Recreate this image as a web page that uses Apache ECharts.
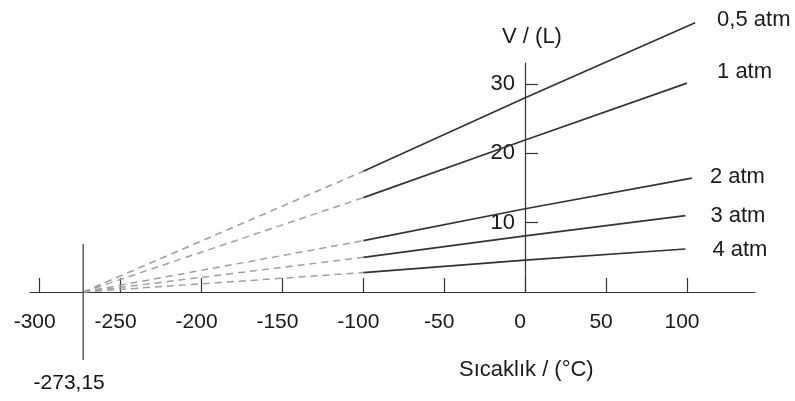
<!DOCTYPE html>
<html>
<head>
<meta charset="utf-8">
<script src="https://cdn.jsdelivr.net/npm/echarts@6/dist/echarts.min.js"></script>
<style>html,body{margin:0;padding:0;background:#fff;}#c{width:795px;height:401px;}</style>
</head>
<body>
<div id="c"></div>
<script>
const pressures = ['0,5 atm', '1 atm', '2 atm', '3 atm', '4 atm'];
const absZero = -273.15;
const absZeroText = '-273,15';
const tStart = -100;
const tZero = 0;
const tEnd = [105, 100, 103, 99, 99];
const vAtStart = [17.4, 13.6, 7.4, 5.0, 2.8];
const vAtZero = [28.0, 21.9, 12.0, 8.1, 4.6];
const vAtEnd = [38.8, 30.1, 16.4, 11.0, 6.2];
const xTicks = [-300, -250, -200, -150, -100, -50, 0, 50, 100];
const yTicks = [10, 20, 30];
const absZeroLineV = [7, -10];

const labelOffsets = [[22, -3], [30, -11], [18, -1], [25, 0], [27, 1]];
const FONT = 'Liberation Sans, Arial, sans-serif';
const TXT = '#1a1a1a';
const FS = 22;

const series = [];
pressures.forEach((p, i) => {
  series.push({
    type: 'line', xAxisIndex: 0, yAxisIndex: 0, symbol: 'none', silent: true, clip: false,
    data: [[absZero, 0], [tStart, vAtStart[i]]],
    lineStyle: { color: '#a0a0a0', width: 1.5, type: [7, 5] }
  });
  series.push({
    type: 'line', xAxisIndex: 0, yAxisIndex: 0, symbol: 'none', silent: true, clip: false, name: p,
    data: [[tStart, vAtStart[i]], [tZero, vAtZero[i]], [tEnd[i], vAtEnd[i]]],
    lineStyle: { color: '#333', width: 1.7 },
    endLabel: {
      show: true, formatter: p, distance: labelOffsets[i][0], offset: [0, labelOffsets[i][1]],
      fontFamily: FONT, fontSize: FS, color: TXT
    }
  });
});
series.push({
  type: 'line', xAxisIndex: 1, yAxisIndex: 1, symbol: 'none', silent: true,
  data: [[absZero, absZeroLineV[0]], [absZero, absZeroLineV[1]]],
  lineStyle: { color: '#333', width: 1.2 }
});
series.push({
  type: 'scatter', xAxisIndex: 1, yAxisIndex: 1, symbolSize: 0, silent: true,
  data: [[absZero, absZeroLineV[1]]],
  itemStyle: { color: '#111', opacity: 1 },
  label: {
    show: true, formatter: absZeroText, position: 'bottom', distance: 13, offset: [-14, 0],
    fontFamily: FONT, fontSize: FS - 1, color: '#111', opacity: 1
  }
});

const chart = echarts.init(document.getElementById('c'), null, { renderer: 'canvas' });
chart.setOption({
  animation: false,
  backgroundColor: '#fff',
  title: {
    text: 'Sıcaklık / (°C)', left: 459, top: 359, padding: 0,
    textStyle: { fontFamily: FONT, fontSize: FS, fontWeight: 'normal', color: TXT }
  },
  grid: [
    { left: 30, right: 40, top: 63, bottom: 109 },
    { left: 30, right: 40, top: 244, bottom: 41 }
  ],
  xAxis: [
    {
      type: 'value', gridIndex: 0, min: -306, max: 142,
      splitLine: { show: false },
      axisLine: { onZero: false, lineStyle: { color: '#333', width: 1.2 } },
      axisTick: { show: true, inside: true, length: 14, customValues: xTicks, lineStyle: { color: '#333', width: 1.2 } },
      axisLabel: { customValues: xTicks, margin: 20, fontFamily: FONT, fontSize: FS - 1, color: TXT, padding: [0, 10, 0, 0] }
    },
    { type: 'value', gridIndex: 1, min: -306, max: 142, show: false }
  ],
  yAxis: [
    {
      type: 'value', gridIndex: 0, min: 0, max: 33, offset: -495,
      name: 'V / (L)', nameLocation: 'end', nameGap: 15,
      nameTextStyle: { fontFamily: FONT, fontSize: FS, color: TXT, padding: [0, 0, 0, 14] },
      splitLine: { show: false },
      axisLine: { onZero: false, lineStyle: { color: '#333', width: 1.2 } },
      axisTick: { show: true, inside: true, length: 13, customValues: yTicks, lineStyle: { color: '#333', width: 1.2 } },
      axisLabel: { customValues: yTicks, margin: 10, fontFamily: FONT, fontSize: FS, color: TXT }
    },
    { type: 'value', gridIndex: 1, min: -10, max: 7, show: false }
  ],
  series: series
});
</script>
</body>
</html>
